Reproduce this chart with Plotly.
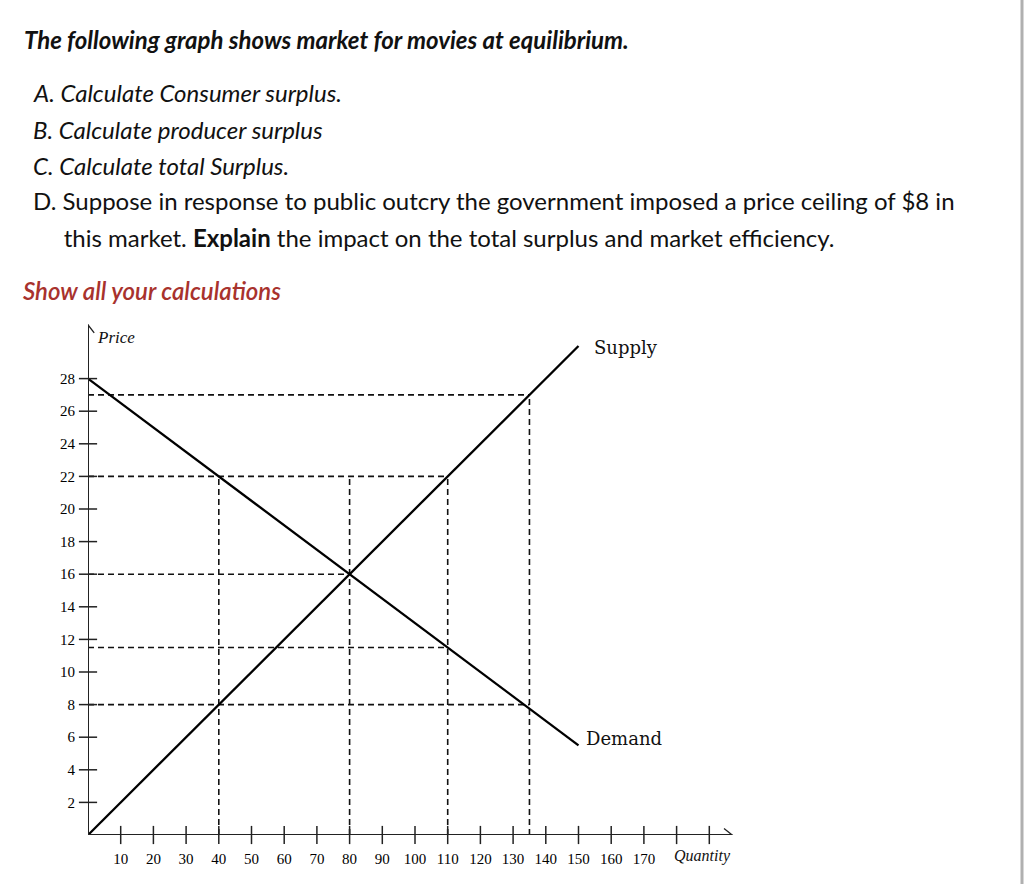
import plotly.graph_objects as go

# ---------------- data ----------------
supply_q = [0, 150]
supply_p = [0, 30]
demand_q = [0, 150]
demand_p = [28, 5.5]

# dashed guide lines
h_levels = [27, 22, 16, 11.5, 8]
h_ends = [135, 110, 80, 110, 135]
v_positions = [40, 80, 110, 135]
v_tops = [22, 22, 22, 27]

x_tick_vals = [10, 20, 30, 40, 50, 60, 70, 80, 90, 100, 110, 120, 130, 140, 150, 160, 170]
x_tick_marks = x_tick_vals + [180, 190]
y_tick_vals = [2, 4, 6, 8, 10, 12, 14, 16, 18, 20, 22, 24, 26, 28]

X_END = 197
Y_END = 31.3

title = "The following graph shows market for movies at equilibrium."
questions = [
    ("A. Calculate Consumer surplus.", "italic"),
    ("B. Calculate producer surplus", "italic"),
    ("C. Calculate total Surplus.", "italic"),
    ("D. Suppose in response to public outcry the government imposed a price ceiling of $8 in", "normal"),
    ("    this market. <b>Explain</b> the impact on the total surplus and market efficiency.", "normal"),
]
question_y = [93, 129, 165, 201, 238]
footer = "Show all your calculations"

W, H = 1024, 884

fig = go.Figure()

DASH = "6px,4px"
for lvl, end in zip(h_levels, h_ends):
    fig.add_trace(go.Scatter(x=[0, end], y=[lvl, lvl], mode="lines",
                             line=dict(color="#111", width=1.6, dash=DASH),
                             hoverinfo="skip", showlegend=False))
for pos, top in zip(v_positions, v_tops):
    fig.add_trace(go.Scatter(x=[pos, pos], y=[0, top], mode="lines",
                             line=dict(color="#111", width=1.6, dash=DASH),
                             hoverinfo="skip", showlegend=False))

# supply & demand
fig.add_trace(go.Scatter(x=supply_q, y=supply_p, mode="lines",
                         line=dict(color="#000", width=2.3), showlegend=False))
fig.add_trace(go.Scatter(x=demand_q, y=demand_p, mode="lines",
                         line=dict(color="#000", width=2.3), showlegend=False))

# axes lines
fig.add_trace(go.Scatter(x=[0, X_END], y=[0, 0], mode="lines",
                         line=dict(color="#222", width=2), showlegend=False, cliponaxis=False))
fig.add_trace(go.Scatter(x=[0, 0], y=[0, Y_END], mode="lines",
                         line=dict(color="#222", width=2), showlegend=False, cliponaxis=False))
# arrow heads (open chevrons)
fig.add_trace(go.Scatter(x=[X_END - 2.5, X_END, X_END - 2.5], y=[0.4, 0, -0.4], mode="lines",
                         line=dict(color="#222", width=1.3), showlegend=False, cliponaxis=False))
fig.add_trace(go.Scatter(x=[-1.9, 0, 1.9], y=[Y_END - 0.5, Y_END, Y_END - 0.5], mode="lines",
                         line=dict(color="#222", width=1.3), showlegend=False, cliponaxis=False))

# tick marks crossing the axes
fig.add_trace(go.Scatter(x=x_tick_marks, y=[0] * len(x_tick_marks), mode="markers",
                         marker=dict(symbol="line-ns", size=13, line=dict(color="#222", width=1.5)),
                         showlegend=False, cliponaxis=False, hoverinfo="skip"))
fig.add_trace(go.Scatter(x=[0] * len(y_tick_vals), y=y_tick_vals, mode="markers",
                         marker=dict(symbol="line-ew", size=13, line=dict(color="#222", width=1.5)),
                         showlegend=False, cliponaxis=False, hoverinfo="skip"))

x0px, x1px = 88, 88 + 200 * 3.27
y0px, y1px = 835, 835 - 32 * 16.3

fig.update_layout(
    width=W, height=H,
    margin=dict(l=0, r=0, t=0, b=0),
    paper_bgcolor="white", plot_bgcolor="white",
    xaxis=dict(domain=[x0px / W, x1px / W], range=[0, 200], showgrid=False, zeroline=False,
               showline=False, tickvals=x_tick_vals, ticks="", ticklabelstandoff=13,
               tickfont=dict(family="Liberation Serif", size=15, color="#000")),
    yaxis=dict(domain=[1 - y0px / H, 1 - y1px / H], range=[0, 32], showgrid=False, zeroline=False,
               showline=False, tickvals=y_tick_vals, ticks="", ticklabelstandoff=12,
               tickfont=dict(family="Liberation Serif", size=15, color="#000")),
)

# chart labels
fig.add_annotation(x=164.5, y=29.9, xref="x", yref="y", text="Supply", showarrow=False,
                   font=dict(family="DejaVu Serif", size=18, color="#111"))
fig.add_annotation(x=164, y=5.95, xref="x", yref="y", text="Demand", showarrow=False,
                   font=dict(family="DejaVu Serif", size=18, color="#111"))
fig.add_annotation(x=2.0, y=30.55, xref="x", yref="y", text="Price", showarrow=False, xanchor="left",
                   font=dict(family="Liberation Serif", size=17, color="#111", style="italic"))
fig.add_annotation(x=187.8, y=1 - 856 / H, xref="x", yref="paper", text="Quantity", showarrow=False,
                   xanchor="center", yanchor="middle",
                   font=dict(family="Liberation Serif", size=16, color="#111", style="italic"))

# text block
fig.add_annotation(x=22 / W, y=1 - 40 / H, xref="paper", yref="paper", xanchor="left", yanchor="middle",
                   text="<b>" + title + "</b>", showarrow=False,
                   font=dict(family="Lato", size=24, color="#111", style="italic"))
for (txt, style), py in zip(questions, question_y):
    fig.add_annotation(x=31 / W, y=1 - py / H, xref="paper", yref="paper", xanchor="left", yanchor="middle",
                       text=txt.replace("    ", "&nbsp;&nbsp;&nbsp;&nbsp;&nbsp;"), showarrow=False,
                       font=dict(family="Lato", size=24, color="#111", style=style))
fig.add_annotation(x=21 / W, y=1 - 291 / H, xref="paper", yref="paper", xanchor="left", yanchor="middle",
                   text=footer, showarrow=False,
                   font=dict(family="Lato", size=24, color="#a8322d", style="italic", weight=600))

# right-edge grey rule
fig.add_shape(type="line", xref="paper", yref="paper", x0=1022 / W, x1=1022 / W, y0=0, y1=1,
              line=dict(color="#b0b0b0", width=3))

fig.write_html("out.html", config={"displayModeBar": False},
               post_script="document.body.style.margin='0';")
